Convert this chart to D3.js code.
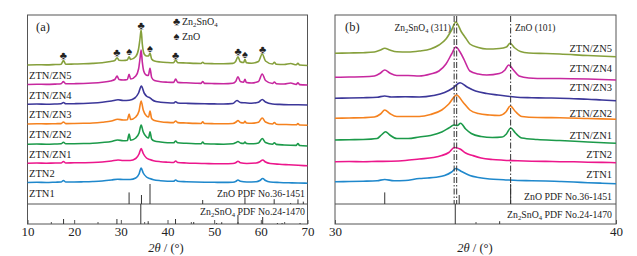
<!DOCTYPE html>
<html><head><meta charset="utf-8">
<script src="https://cdn.jsdelivr.net/npm/d3@7"></script>
<style>body{margin:0;background:#fff} text{font-family:"Liberation Serif","Times New Roman",serif;fill:#222}</style>
</head><body><svg id="c" width="637" height="256"></svg>
<script>
// ---------- DATA ----------
const seriesNames = ["ZTN1","ZTN2","ZTN/ZN1","ZTN/ZN2","ZTN/ZN3","ZTN/ZN4","ZTN/ZN5"];
const seriesColors = ["#1f88cc","#ec178c","#1c9a4a","#f5821f","#3c3799","#c7289f","#86a03c"];
const xTicksA = [10,20,30,40,50,60,70];
const xMinorA = [15,25,35,45,55,65];
const xTicksB = [30,40];
const xMinorB = [35];

// panel (a): [2theta, intensity (stacked, a.u.)]
const a_ZTN1 = [[10,41.5],[12,41.8],[14,41.5],[16,41.8],[17.2,42],[17.7,43.5],[18.2,42],[20,42],[22,42.2],[24,42.5],[26,43],[28,44],[29.3,44.8],[30.5,44.5],[32,44.5],[33.2,46],[33.9,50],[34.35,56],[34.8,51],[35.5,47],[36.2,45.5],[37,44.3],[38.5,43.3],[40,42.8],[41.3,42.7],[41.75,44],[42.2,42.7],[44,42.3],[46,42],[48,41.8],[50,41.7],[52,41.6],[54,41.8],[54.7,42.8],[55.1,44],[55.6,42.8],[57,42],[59,42.3],[59.8,43.5],[60.4,45.5],[61,43.5],[62,42],[64,41.5],[66,41.2],[68,41],[70,40.8]];
const a_ZTN2 = [[10,60.7],[12,61],[14,60.8],[16,61],[17.2,61],[17.7,62.5],[18.2,61],[20,61.2],[22,61.3],[24,61.5],[26,62],[28,63],[29.4,64],[30.5,63.5],[32,63.5],[33.2,65.5],[33.9,70],[34.35,75.5],[34.8,70.5],[35.5,66],[36.2,64.5],[37,63.3],[38.5,62.3],[40,61.8],[41.3,61.5],[41.75,63],[42.2,61.5],[44,61],[46,60.7],[48,60.5],[50,60.3],[52,60.2],[54,60.5],[54.7,61.5],[55.1,62.8],[55.6,61.3],[57,60.5],[59,61],[59.8,62.3],[60.4,64],[61,62],[62,60.5],[64,59.7],[66,59.2],[68,58.7],[70,58.2]];
const a_ZN1 = [[10,79.7],[12,80],[14,79.8],[16,80],[17.2,80.2],[17.7,81.8],[18.2,80.2],[20,80.3],[22,80.5],[24,80.8],[26,81.5],[28,82.5],[29.3,84],[30.5,83.3],[31.4,83.5],[31.77,90],[32.1,83.8],[33.2,86],[33.9,91],[34.35,99],[34.8,92],[35.5,87],[35.95,86],[36.25,92.3],[36.6,85],[37.2,83],[38.5,82],[40,81.3],[41.3,81.2],[41.75,83],[42.2,81.2],[44,80.7],[46,80.3],[47.2,80.2],[47.55,82],[47.9,80.2],[50,80],[52,79.8],[54,80.2],[54.7,81.5],[55.1,82.5],[55.6,81],[56.3,80.5],[56.6,82],[56.9,80.5],[58,80.2],[59.5,81],[60.3,85.5],[61,81.5],[62.5,79.8],[62.9,81.3],[63.3,79.6],[65,79],[67.6,78.6],[67.95,80.5],[68.3,78.5],[70,78]];
const a_ZN2 = [[10,100],[12,100.3],[14,100.1],[16,100.3],[17.2,100.4],[17.7,102],[18.2,100.4],[20,100.5],[22,100.7],[24,101],[26,101.8],[28,103],[29.3,104.8],[30.5,104],[31.4,104.2],[31.77,110],[32.1,104.5],[33.2,107],[33.9,113],[34.35,123],[34.8,114],[35.5,108],[35.95,107],[36.25,113],[36.6,105.5],[37.2,103.5],[38.5,102.3],[40,101.6],[41.3,101.4],[41.75,103],[42.2,101.4],[44,101],[46,100.6],[47.2,100.5],[47.55,102.3],[47.9,100.5],[50,100.3],[52,100.2],[54,100.5],[54.7,102],[55.1,103.5],[55.6,101.5],[56.3,101],[56.6,102.8],[56.9,101],[58,100.7],[59.5,101.8],[60.3,106],[61,102],[62.5,100],[62.9,101.5],[63.3,99.8],[65,99.5],[67.6,99.2],[67.95,100.5],[68.3,99],[70,98.8]];
const a_ZN3 = [[10,119.7],[12,120],[14,119.8],[16,120],[17.2,120.2],[17.7,121.5],[18.2,120.2],[20,120.3],[22,120.5],[24,121],[26,121.8],[28,123],[29.4,124.2],[30.5,123.5],[31.8,123.8],[33,126],[33.8,131],[34.4,138],[35,131],[35.6,127.5],[36.25,126.2],[36.8,124],[37.5,122.5],[38.5,121.8],[40,121.2],[41.3,121],[41.75,122.3],[42.2,121],[44,120.7],[46,120.4],[48,120.2],[50,120.1],[52,120],[54,120.5],[54.9,123.5],[55.6,121.5],[56.6,121.2],[58,120.8],[59.5,121.8],[60.3,124.5],[61,122],[62.5,120],[64,119.6],[66,119.3],[68,119.2],[70,119]];
const a_ZN4 = [[10,139.5],[12,139.8],[14,139.6],[16,139.9],[17.2,140.2],[17.7,142.5],[18.2,140.2],[20,140.3],[22,140.5],[24,141],[26,141.8],[27.8,143],[28.7,144.5],[29.2,148],[29.6,144.5],[30.5,144],[31.4,144.5],[31.77,149.7],[32.1,145],[33.2,148],[33.8,155],[34.1,165],[34.35,174],[34.6,162],[34.9,153],[35.4,149],[35.9,148.5],[36.25,155.7],[36.6,146.5],[37.2,143.5],[38.5,142.3],[40,141.8],[41.3,141.6],[41.75,145],[42.2,141.6],[44,141.2],[46,140.8],[47.2,140.6],[47.55,142.5],[47.9,140.6],[50,140.4],[52,140.3],[54,140.8],[54.6,142.5],[55.1,147.3],[55.6,142.5],[56.3,141.8],[56.6,144.7],[56.9,141.5],[58,141],[59.5,142.5],[60.3,150],[61,143.5],[62.5,140.5],[62.9,142],[63.3,140.3],[65,140],[66.4,141],[67.6,139.6],[67.95,141.3],[68.3,139.4],[70,139]];
const a_ZN5 = [[10,159],[12,159.3],[14,159.1],[16,159.5],[17.2,159.8],[17.7,163.5],[18.2,159.8],[20,160],[22,160.2],[24,160.6],[26,161.3],[27.8,162.5],[28.7,163.5],[29.2,166.3],[29.6,163.8],[30.5,163.5],[31.4,164],[31.77,167.3],[32.1,164.5],[33.2,167.5],[33.8,175],[34.1,185],[34.35,194],[34.6,180],[35,170],[35.5,168],[35.95,168],[36.25,171],[36.6,165],[37.2,163],[38.5,162],[40,161.5],[41.3,161.3],[41.75,164],[42.2,161.3],[44,161],[46,160.6],[47.2,160.5],[47.55,161.8],[47.9,160.5],[50,160.3],[52,160.2],[54,160.6],[54.6,162.5],[55.1,167.3],[55.6,162.3],[56.3,161.5],[56.6,164.7],[56.9,161.3],[58,160.8],[59.5,162.5],[60.3,170],[61,163],[62.5,160],[62.9,161.7],[63.3,159.8],[65,159.5],[66.4,160.5],[67.6,159.2],[67.95,160.8],[68.3,159],[70,158.5]];

// panel (b)
const b_ZTN1 = [[30,42.3],[30.5,42.5],[31,42.8],[31.5,43.3],[31.77,44.5],[32.1,43.2],[32.5,43.5],[33,45.5],[33.3,46],[33.6,46.8],[33.9,48.5],[34.15,52],[34.3,55.5],[34.5,52.5],[34.8,48.5],[35.1,46.5],[35.5,45],[36,44.3],[36.5,43.5],[37,43.3],[37.5,43],[38,42.5],[38.5,42],[39,41.3],[39.5,40.8],[40,40.3]];
const b_ZTN2 = [[30,62.3],[30.5,62.5],[31,62.3],[31.5,62.6],[32,62.8],[32.5,63.5],[33,65],[33.5,66.5],[33.8,68.5],[34.05,71.5],[34.25,76.5],[34.45,75],[34.65,71],[34.9,68.5],[35.2,66],[35.6,64.5],[36,63.8],[36.5,63.2],[37,62.8],[37.5,62.6],[38,62.3],[38.5,62.2],[39,61.8],[39.5,61.6],[40,61.3]];
const b_ZN1 = [[30,84],[30.5,84.3],[31,84.5],[31.5,85.5],[31.65,89],[31.8,92.3],[31.95,89],[32.2,85.5],[32.6,85.5],[33,87],[33.4,88.5],[33.8,92],[34.05,96],[34.23,99],[34.35,98.5],[34.47,100.7],[34.65,95],[34.85,90.5],[35.2,87.5],[35.6,86.5],[35.95,87],[36.1,90],[36.25,96],[36.42,91],[36.65,86],[37.2,84.5],[38,83.5],[39,82],[40,80.7]];
const b_ZN2 = [[30,105.7],[30.5,106],[31,106.3],[31.4,107],[31.62,110],[31.77,114],[31.95,110.5],[32.2,107.5],[32.6,107.5],[33,107.5],[33.4,109.5],[33.8,114],[34.05,120],[34.33,129],[34.55,122],[34.8,114],[35.1,110.5],[35.5,109],[35.85,108.5],[36.08,112],[36.24,118],[36.42,112.5],[36.65,107.5],[37.2,106.5],[38,106.3],[39,105.5],[40,104.7]];
const b_ZN3 = [[30,125.7],[30.5,126],[31,126.3],[31.5,126.8],[31.77,128],[32,127],[32.5,127.2],[33,127],[33.5,128.5],[33.9,131.5],[34.2,136],[34.45,141.3],[34.7,137],[35,133],[35.4,130.5],[35.8,129],[36.23,127.5],[36.6,126.5],[37,126.3],[37.5,126],[38,125.8],[38.5,125.3],[39,124.8],[39.5,124],[40,123.3]];
const b_ZN4 = [[30,146.7],[30.5,147],[31,147.2],[31.4,148],[31.62,151],[31.77,154],[31.95,151],[32.2,148.5],[32.6,148.5],[33,148],[33.4,150],[33.7,153],[33.95,160],[34.15,170],[34.3,177],[34.45,172],[34.6,164],[34.8,153],[35.1,150],[35.4,149],[35.85,150.5],[36.05,154],[36.18,159],[36.35,154],[36.55,148],[36.9,146],[37.5,145.5],[38,145.5],[39,145],[40,144]];
const b_ZN5 = [[30,170.7],[30.5,171],[31,171.3],[31.4,172],[31.62,174],[31.77,175.7],[31.95,174],[32.2,172.3],[32.6,172],[33,173],[33.4,175],[33.7,179],[33.95,185],[34.15,194],[34.3,202],[34.5,192],[34.65,186],[34.8,180],[35.1,176.5],[35.4,175],[35.85,175.5],[36.1,177],[36.23,180.7],[36.4,176],[36.6,172.5],[36.9,171],[37.5,170.5],[38,170],[39,168.5],[40,167.3]];

// reference patterns: position, relative intensity (%)
const znoPos = [31.77,34.42,36.25,47.54,56.60,62.86,66.38,67.96,69.10];
const znoInt = [58,45,100,20,33,24,4,23,12];
const zsoPos = [17.73,29.16,34.28,35.86,41.72,45.62,50.53,51.62,55.10,60.40,63.55,64.55,68.4];
const zsoInt = [25,25,100,14,25,10,5,9,45,35,5,5,5];

// phase markers on top curve
const markZso = [17.7,29.15,34.35,41.75,55.15,60.4];
const markZno = [31.77,36.25,56.6];

const aCurves = [a_ZTN1,a_ZTN2,a_ZN1,a_ZN2,a_ZN3,a_ZN4,a_ZN5];
const bCurves = [b_ZTN1,b_ZTN2,b_ZN1,b_ZN2,b_ZN3,b_ZN4,b_ZN5];
const dashPos = [34.24,34.33,36.25];

// ---------- LAYOUT ----------
const svg = d3.select("#c");
const yTop = 15, yBot = 224, ySep = 204;
const yS = d3.scaleLinear().domain([0,209]).range([yBot, yTop]);
const stick = d3.scaleLinear().domain([0,100]).range([0,20]);
const labelOffB = [-9,-8,-8,-6,-13,-12,-8];

function subText(g, x, y, parts, size, anchor){
  const t = g.append("text").attr("x",x).attr("y",y).attr("font-size",size).attr("text-anchor",anchor||"start");
  parts.forEach(p=>{
    const s = t.append("tspan").text(p[0]);
    if(p[1]==="sub"){ s.attr("font-size",size*0.68).attr("dy",2.5); }
    else if(p[1]==="up"){ s.attr("dy",-2.5); }
  });
  return t;
}
const zsoParts = [["Zn"],["2","sub"],["SnO","up"],["4","sub"]];

function panel(x0, x1, dom, ticks, minor, curves, labelMode){
  const x = d3.scaleLinear().domain(dom).range([x0, x1]);
  const g = svg.append("g");
  g.append("rect").attr("x",x0).attr("y",yTop).attr("width",x1-x0).attr("height",yBot-yTop)
    .attr("fill","none").attr("stroke","#555").attr("stroke-width",1);
  g.append("line").attr("x1",x0).attr("x2",x1).attr("y1",ySep).attr("y2",ySep).attr("stroke","#555");
  const ax = g.append("g").attr("transform",`translate(0,${yBot})`)
    .call(d3.axisBottom(x).tickValues(ticks).tickSizeInner(-4).tickSizeOuter(0).tickPadding(3).tickFormat(d3.format("d")));
  ax.select(".domain").remove();
  ax.selectAll("line").attr("stroke","#555");
  ax.selectAll("text").attr("font-size",13).attr("fill","#222").style("font-family",'"Liberation Serif",serif');
  const mx = g.append("g").attr("transform",`translate(0,${yBot})`)
    .call(d3.axisBottom(x).tickValues(minor).tickSize(-2).tickFormat(""));
  mx.select(".domain").remove();
  mx.selectAll("line").attr("stroke","#555");
  const inDom = p => p>=dom[0] && p<=dom[1];
  znoPos.forEach((p,i)=>{ if(inDom(p)) g.append("line").attr("x1",x(p)).attr("x2",x(p)).attr("y1",ySep).attr("y2",ySep-stick(znoInt[i])).attr("stroke","#333").attr("stroke-width",1); });
  zsoPos.forEach((p,i)=>{ if(inDom(p)) g.append("line").attr("x1",x(p)).attr("x2",x(p)).attr("y1",yBot).attr("y2",yBot-stick(zsoInt[i])).attr("stroke","#333").attr("stroke-width",1); });
  const line = d3.line().x(d=>x(d[0])).y(d=>yS(d[1])).curve(d3.curveMonotoneX);
  curves.forEach((c,i)=>{
    g.append("path").datum(c).attr("d",line).attr("fill","none").attr("stroke",seriesColors[i]).attr("stroke-width",1.6).attr("stroke-linejoin","round");
  });
  curves.forEach((c,i)=>{
    if(labelMode==="left"){
      g.append("text").attr("x",x0+1.5).attr("y",yS(c[0][1])+14).attr("font-size",10.5).text(seriesNames[i]);
    } else {
      g.append("text").attr("x",x1-4).attr("y",yS(c[c.length-1][1])+labelOffB[i]+3.5).attr("font-size",10.5).attr("text-anchor","end").text(seriesNames[i]);
    }
  });
  return {x,g};
}

const A = panel(27.5, 307.5, [10,70], xTicksA, xMinorA, aCurves, "left");
const B = panel(335, 616, [30,40], xTicksB, xMinorB, bCurves, "right");

dashPos.forEach(p=>{
  B.g.append("line").attr("x1",B.x(p)).attr("x2",B.x(p)).attr("y1",yTop+1).attr("y2",ySep)
   .attr("stroke","#333").attr("stroke-width",1).attr("stroke-dasharray","6,2,1.5,2");
});

A.g.append("text").attr("x",305).attr("y",196.5).attr("font-size",9.8).attr("text-anchor","end").text("ZnO PDF No.36-1451");
subText(A.g, 305, 214.5, [...zsoParts,[" PDF No.24-1470","up"]], 9.8, "end");
B.g.append("text").attr("x",612).attr("y",199.5).attr("font-size",9.8).attr("text-anchor","end").text("ZnO PDF No.36-1451");
subText(B.g, 612, 217.5, [...zsoParts,[" PDF No.24-1470","up"]], 9.8, "end");

svg.append("text").attr("x",36).attr("y",31).attr("font-size",12.5).text("(a)");
svg.append("text").attr("x",345).attr("y",30.5).attr("font-size",12.5).text("(b)");

function peakVal(p){ const pts = a_ZN5.filter(d=>Math.abs(d[0]-p)<=0.35); return d3.max(pts,d=>d[1]); }
markZso.forEach(p=>{ A.g.append("text").attr("x",A.x(p)).attr("y",yS(peakVal(p))-1.5).attr("font-size",11).attr("text-anchor","middle").text("\u2663"); });
markZno.forEach(p=>{ A.g.append("text").attr("x",A.x(p)).attr("y",yS(peakVal(p))-1.5).attr("font-size",11).attr("text-anchor","middle").text("\u2660"); });
A.g.append("text").attr("x",176.5).attr("y",25).attr("font-size",11).attr("text-anchor","middle").text("\u2663");
subText(A.g, 182, 24.5, zsoParts, 10, "start");
A.g.append("text").attr("x",176.5).attr("y",40).attr("font-size",11).attr("text-anchor","middle").text("\u2660");
A.g.append("text").attr("x",182).attr("y",39.5).attr("font-size",10).text("ZnO");

subText(B.g, 451, 30.5, [...zsoParts,[" (311)","up"]], 9.5, "end");
B.g.append("text").attr("x",515).attr("y",30.5).attr("font-size",9.5).text("ZnO (101)");

function axTitle(cx){
  const t = svg.append("text").attr("x",cx).attr("y",252).attr("font-size",12.5).attr("text-anchor","middle");
  t.append("tspan").attr("font-style","italic").text("2\u03b8");
  t.append("tspan").text(" / (\u00b0)");
}
axTitle(166); axTitle(475);
</script></body></html>
